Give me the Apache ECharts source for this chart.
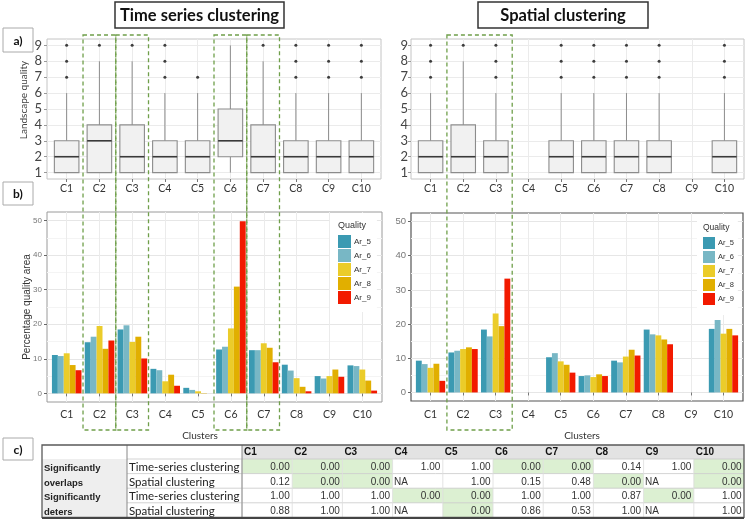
<!DOCTYPE html>
<html>
<head>
<meta charset="utf-8">
<script src="https://cdn.jsdelivr.net/npm/echarts@6/dist/echarts.min.js"></script>
<style>
html, body { margin: 0; padding: 0; background: #fff; }
#main { width: 746px; height: 521px; }
</style>
</head>
<body>
<div id="main"></div>
<script>
var clusters = ['C1', 'C2', 'C3', 'C4', 'C5', 'C6', 'C7', 'C8', 'C9', 'C10'];
var qualities = ['Ar_5', 'Ar_6', 'Ar_7', 'Ar_8', 'Ar_9'];
var qualityColors = ['#3B9AB2', '#78B7C5', '#EBCC2A', '#E1AF00', '#F21A00'];
var boxTicks = [1, 2, 3, 4, 5, 6, 7, 8, 9];
var barTicks = [0, 10, 20, 30, 40, 50];
var barMinorTicks = [5, 15, 25, 35, 45];

// landscape quality: [lower whisker, Q1, median, Q3, upper whisker]
var tsBoxes = [[1,1,2,3,6], [1,1,3,4,8], [1,1,2,4,8], [1,1,2,3,6], [1,1,2,3,6],
               [1,2,3,5,9], [1,1,2,4,8], [1,1,2,3,6], [1,1,2,3,6], [1,1,2,3,6]];
var tsOutliers = [[7,8,9], [9], [9], [7,8,9], [7], [], [9], [7,8,9], [7,8,9], [7,8,9]];
var spBoxes = [[1,1,2,3,6], [1,1,2,4,8], [1,1,2,3,6], null, [1,1,2,3,6],
               [1,1,2,3,6], [1,1,2,3,6], [1,1,2,3,6], null, [1,1,2,3,6]];
var spOutliers = [[7,8,9], [9], [7,8,9], [], [7,8,9], [7,8,9], [7,8,9], [7,8,9], [], [7,8,9]];

// percentage quality area, C1..C10
var tsAr5 = [11.1, 14.8, 18.5, 7.1, 1.6, 12.7, 12.5, 8.3, 5.0, 8.1];
var tsAr6 = [10.8, 16.4, 19.7, 6.7, 1.0, 13.5, 12.5, 6.6, 4.3, 7.9];
var tsAr7 = [11.6, 19.5, 14.9, 3.5, 0.6, 18.8, 14.5, 4.4, 5.0, 6.9];
var tsAr8 = [8.2, 12.9, 16.4, 5.4, 0.1, 30.9, 13.2, 1.9, 6.9, 3.7];
var tsAr9 = [6.7, 15.3, 10.1, 2.2, 0, 49.8, 9.0, 0.6, 4.8, 0.8];
var spAr5 = [9.3, 11.7, 18.4, null, 10.3, 4.8, 9.3, 18.4, null, 18.6];
var spAr6 = [8.3, 12.2, 16.4, null, 11.5, 5.0, 8.8, 17.0, null, 21.2];
var spAr7 = [7.2, 12.7, 23.1, null, 9.1, 4.5, 10.5, 16.7, null, 17.2];
var spAr8 = [8.4, 13.2, 19.4, null, 8.1, 5.3, 12.5, 15.5, null, 18.6];
var spAr9 = [3.4, 12.7, 33.3, null, 5.8, 4.8, 10.8, 14.1, null, 16.7];

var tsHighlight = [['C2'], ['C3'], ['C6'], ['C7']];
var spHighlight = [['C2', 'C3']];

// table c)
var rowGroups = [['Significantly', 'overlaps'], ['Significantly', 'deters']];
var rowMethods = ['Time-series clustering', 'Spatial clustering'];
var overlapTS = [0.00, 0.00, 0.00, 1.00, 1.00, 0.00, 0.00, 0.14, 1.00, 0.00];
var overlapSp = [0.12, 0.00, 0.00, null, 1.00, 0.15, 0.48, 0.00, null, 0.00];
var deterTS = [1.00, 1.00, 1.00, 0.00, 0.00, 1.00, 1.00, 0.87, 0.00, 1.00];
var deterSp = [0.88, 1.00, 1.00, null, 0.00, 0.86, 0.53, 1.00, null, 1.00];

var chart = echarts.init(document.getElementById('main'));
var xTicks = clusters.map(function (c, i) { return i + 1; });
var calibri = 'Lato';
var arial = 'Liberation Sans';

function catName(v) { return clusters[Math.round(v) - 1] || ''; }

function xAxisFor(gi, margin) {
	return {
		type: 'value', gridIndex: gi, min: 0.4, max: 10.6,
		axisLine: { show: false },
		axisTick: { show: true, length: 3, customValues: xTicks, lineStyle: { color: '#777' } },
		axisLabel: { customValues: xTicks, formatter: catName, margin: margin, fontSize: 10.5, color: '#333', fontFamily: calibri },
		splitLine: { show: true, lineStyle: { color: '#ebebeb', width: 1 } }
	};
}

function boxYAxis(gi, margin) {
	return {
		type: 'value', gridIndex: gi, min: 0.6, max: 9.4,
		axisLine: { show: false },
		axisTick: { show: true, length: 3, customValues: boxTicks, lineStyle: { color: '#999' } },
		axisLabel: { customValues: boxTicks, margin: margin, fontSize: 13, color: '#444', fontFamily: calibri },
		splitLine: { show: true, lineStyle: { color: '#ebebeb' } }
	};
}

function barYAxis(gi, fs, margin) {
	return {
		type: 'value', gridIndex: gi, min: -2.5, max: 52.5,
		axisLine: { show: false },
		axisTick: { show: true, length: 3, customValues: barTicks, lineStyle: { color: '#666' } },
		axisLabel: { customValues: barTicks, margin: margin, fontSize: fs, color: '#777', fontFamily: arial },
		splitLine: { show: true, lineStyle: { color: '#e6e6e6' } }
	};
}

function minorYAxis(gi) {
	return {
		type: 'value', gridIndex: gi, min: -2.5, max: 52.5, position: 'left',
		axisLine: { show: false },
		axisTick: { show: false, customValues: barMinorTicks },
		axisLabel: { show: false, customValues: barMinorTicks },
		splitLine: { show: true, lineStyle: { color: '#f4f4f4' } }
	};
}

function renderBox(params, api) {
	var x = api.value(0);
	var lo = api.value(1), q1 = api.value(2), md = api.value(3), q3 = api.value(4), hi = api.value(5);
	var tl = api.coord([x - 0.375, q3]);
	var br = api.coord([x + 0.375, q1]);
	var pm = api.coord([x, md]);
	var pl = api.coord([x, lo]);
	var ph = api.coord([x, hi]);
	var grey = '#8c8c8c';
	return {
		type: 'group',
		children: [
			{ type: 'line', shape: { x1: ph[0], y1: ph[1], x2: ph[0], y2: tl[1] }, style: { stroke: grey, lineWidth: 1 } },
			{ type: 'line', shape: { x1: pl[0], y1: br[1], x2: pl[0], y2: pl[1] }, style: { stroke: grey, lineWidth: 1 } },
			{ type: 'rect', shape: { x: tl[0], y: tl[1], width: br[0] - tl[0], height: br[1] - tl[1] },
			  style: { fill: '#f1f1f1', stroke: grey, lineWidth: 1.1 } },
			{ type: 'line', shape: { x1: tl[0], y1: pm[1], x2: br[0], y2: pm[1] }, style: { stroke: '#3a3a3a', lineWidth: 1.6 } }
		]
	};
}

function boxSeries(boxes, outliers, axis) {
	var data = [];
	boxes.forEach(function (b, i) { if (b) data.push([i + 1].concat(b)); });
	var pts = [];
	outliers.forEach(function (list, i) { list.forEach(function (v) { pts.push([i + 1, v]); }); });
	return [
		{ type: 'custom', xAxisIndex: axis, yAxisIndex: axis, renderItem: renderBox,
		  encode: { x: 0, y: [1, 2, 3, 4, 5] }, data: data, silent: true },
		{ type: 'scatter', xAxisIndex: axis, yAxisIndex: axis, symbolSize: 3,
		  itemStyle: { color: '#111' }, data: pts, silent: true }
	];
}

function barSeries(arrays, axis) {
	return arrays.map(function (vals, q) {
		var data = [];
		vals.forEach(function (v, i) { if (v !== null) data.push([i + 1, v]); });
		return {
			type: 'bar', name: qualities[q], xAxisIndex: axis, yAxisIndex: axis,
			barGap: '0%', barCategoryGap: '10%',
			itemStyle: { color: qualityColors[q] }, data: data
		};
	});
}

function legendFor(left, top, pad, size, fs) {
	return {
		data: qualities, orient: 'vertical', left: left, top: top, padding: pad,
		icon: 'rect', itemWidth: size, itemHeight: size, itemGap: 14 - size,
		backgroundColor: '#fff', z: 5,
		textStyle: { fontSize: fs, color: '#333', fontFamily: arial, padding: [0, 0, 0, -2] }
	};
}

function boxedLabel(id, x, y, w, h, text, font, stroke, lw) {
	return {
		type: 'group', id: id, children: [
			{ type: 'rect', shape: { x: x, y: y, width: w, height: h }, style: { fill: '#fff', stroke: stroke, lineWidth: lw } },
			{ type: 'text', x: x + w / 2, y: y + h / 2 + 1, style: { text: text, font: font, fill: '#111', align: 'center', verticalAlign: 'middle' } }
		]
	};
}

function textEl(id, x, y, text, font, opts) {
	var s = { text: text, font: font, fill: (opts && opts.fill) || '#333',
		align: (opts && opts.align) || 'left', verticalAlign: 'middle' };
	return { type: 'text', id: id, x: x, y: y, rotation: (opts && opts.rotation) || 0, style: s, z: 20 };
}

function tableGraphics() {
	var T = { x0: 42, x1: 127, x2: 242, right: 744, top: 445, headH: 14, rowH: 14.6, colW: 50.2 };
	var rows = [overlapTS, overlapSp, deterTS, deterSp];
	var bottom = T.top + T.headH + rows.length * T.rowH;
	var els = [];
	var n = 0;
	function add(e) { e.id = 'tb' + (n++); e.z = 10; els.push(e); }
	add({ type: 'rect', shape: { x: T.x2, y: T.top, width: T.right - T.x2, height: T.headH }, style: { fill: '#e3e3e3' } });
	add({ type: 'rect', shape: { x: T.x0, y: T.top + T.headH, width: T.x1 - T.x0, height: rows.length * T.rowH }, style: { fill: '#eeeeee' } });
	rows.forEach(function (row, r) {
		var y = T.top + T.headH + r * T.rowH;
		row.forEach(function (v, c) {
			var cx = T.x2 + c * T.colW;
			if (v === 0) {
				add({ type: 'rect', shape: { x: cx, y: y, width: T.colW, height: T.rowH }, style: { fill: '#dcf0d2' } });
			}
		});
	});
	rows.forEach(function (row, r) {
		var y = T.top + T.headH + r * T.rowH;
		add({ type: 'line', shape: { x1: T.x1, y1: y, x2: T.right, y2: y }, style: { stroke: '#c8c8c8', lineWidth: 0.8 } });
		add({ type: 'text', x: T.x1 + 2, y: y + T.rowH / 2 + 1,
			style: { text: rowMethods[r % 2], font: '11.5px ' + calibri, fill: '#222', verticalAlign: 'middle' } });
		add({ type: 'text', x: T.x0 + 2, y: y + T.rowH / 2 + 2,
			style: { text: rowGroups[Math.floor(r / 2)][r % 2], font: 'bold 9.5px "' + arial + '"', fill: '#222', verticalAlign: 'middle' } });
		row.forEach(function (v, c) {
			var cx = T.x2 + c * T.colW;
			if (v === null) {
				add({ type: 'text', x: cx + 1.5, y: y + T.rowH / 2 + 1,
					style: { text: 'NA', font: '10px "' + arial + '"', fill: '#333', verticalAlign: 'middle' } });
			} else {
				add({ type: 'text', x: cx + T.colW - 2.5, y: y + T.rowH / 2 + 1,
					style: { text: v.toFixed(2), font: '10px "' + arial + '"', fill: '#333', align: 'right', verticalAlign: 'middle' } });
			}
		});
	});
	clusters.forEach(function (c, i) {
		var cx = T.x2 + i * T.colW;
		add({ type: 'line', shape: { x1: cx, y1: T.top + T.headH, x2: cx, y2: bottom }, style: { stroke: '#dddddd', lineWidth: 0.8 } });
		add({ type: 'text', x: cx + 2, y: T.top + T.headH / 2 + 0.5,
			style: { text: c, font: 'bold 10px "' + arial + '"', fill: '#111', verticalAlign: 'middle' } });
	});
	add({ type: 'line', shape: { x1: T.x1, y1: T.top, x2: T.x1, y2: bottom }, style: { stroke: '#888', lineWidth: 1 } });
	add({ type: 'line', shape: { x1: T.x2, y1: T.top, x2: T.x2, y2: bottom }, style: { stroke: '#888', lineWidth: 1 } });
	add({ type: 'rect', shape: { x: T.x0, y: T.top, width: T.right - T.x0, height: bottom - T.top },
		style: { fill: 'none', stroke: '#5a5a5a', lineWidth: 1.3 } });
	add({ type: 'line', shape: { x1: T.x0, y1: bottom + 0.5, x2: T.right, y2: bottom + 0.5 }, style: { stroke: '#444', lineWidth: 2 } });
	return els;
}

var baseGraphics = [
	boxedLabel('t1', 115, 2, 169, 26, 'Time series clustering', 'bold 16.5px ' + calibri, '#333', 1.5),
	boxedLabel('t2', 478, 2, 170, 26, 'Spatial clustering', 'bold 16.5px ' + calibri, '#333', 1.5),
	boxedLabel('la', 3, 28, 30, 24, 'a)', 'bold 12px ' + calibri, '#aaa', 1),
	boxedLabel('lb', 3, 182, 30, 23, 'b)', 'bold 12px ' + calibri, '#aaa', 1),
	boxedLabel('lc', 3, 438, 30, 22, 'c)', 'bold 12px ' + calibri, '#aaa', 1),
	textEl('yn1', 24, 100, 'Landscape quality', '10px ' + calibri, { align: 'center', rotation: Math.PI / 2, fill: '#444' }),
	textEl('yn2', 27, 307, 'Percentage quality area', '10px "' + arial + '"', { align: 'center', rotation: Math.PI / 2 }),
	textEl('q1', 338, 226, 'Quality', '9px "' + arial + '"'),
	textEl('q2', 703, 228, 'Quality', '8.5px "' + arial + '"'),
	textEl('xn1', 200, 436, 'Clusters', '10px ' + calibri, { align: 'center' }),
	textEl('xn2', 582, 436, 'Clusters', '10px ' + calibri, { align: 'center' })
].concat(tableGraphics());

option = {
	backgroundColor: '#fff',
	animation: false,
	grid: [
		{ left: 47, top: 39, width: 334, height: 140, show: true, borderColor: '#c4c4c4', borderWidth: 1, backgroundColor: '#fff', outerBoundsMode: 'none' },
		{ left: 411, top: 39, width: 333, height: 140, show: true, borderColor: '#c4c4c4', borderWidth: 1, backgroundColor: '#fff', outerBoundsMode: 'none' },
		{ left: 47, top: 212, width: 335, height: 190, show: true, borderColor: '#9a9a9a', borderWidth: 1, backgroundColor: '#fff', outerBoundsMode: 'none' },
		{ left: 411, top: 213, width: 332, height: 188, show: true, borderColor: '#555', borderWidth: 1.2, backgroundColor: '#fff', outerBoundsMode: 'none' }
	],
	xAxis: [xAxisFor(0, 4.5), xAxisFor(1, 4.5), xAxisFor(2, 7.5), xAxisFor(3, 8.5)],
	yAxis: [boxYAxis(0, 5), boxYAxis(1, 3), barYAxis(2, 8, 5), barYAxis(3, 9.5, 5), minorYAxis(2), minorYAxis(3)],
	legend: [legendFor(330, 213, [22, 6, 8, 8], 13, 8), legendFor(697, 215, [22, 4, 10, 6], 12, 7.5)],
	series: []
		.concat(boxSeries(tsBoxes, tsOutliers, 0))
		.concat(boxSeries(spBoxes, spOutliers, 1))
		.concat(barSeries([tsAr5, tsAr6, tsAr7, tsAr8, tsAr9], 2))
		.concat(barSeries([spAr5, spAr6, spAr7, spAr8, spAr9], 3)),
	graphic: baseGraphics
};
chart.setOption(option);

// dashed boxes around highlighted clusters, placed through the x axes
function highlightRects(groups, axis, prefix) {
	return groups.map(function (g, k) {
		var a = chart.convertToPixel({ xAxisIndex: axis }, clusters.indexOf(g[0]) + 1 - 0.5);
		var b = chart.convertToPixel({ xAxisIndex: axis }, clusters.indexOf(g[g.length - 1]) + 1 + 0.5);
		return {
			type: 'rect', id: prefix + k, z: 30,
			shape: { x: a, y: 35, width: b - a, height: 395 },
			style: { fill: 'none', stroke: '#6f9f4a', lineWidth: 1.3, lineDash: [4, 3] }
		};
	});
}
chart.setOption({ graphic: highlightRects(tsHighlight, 0, 'hl').concat(highlightRects(spHighlight, 1, 'hs')) });
</script>
</body>
</html>
